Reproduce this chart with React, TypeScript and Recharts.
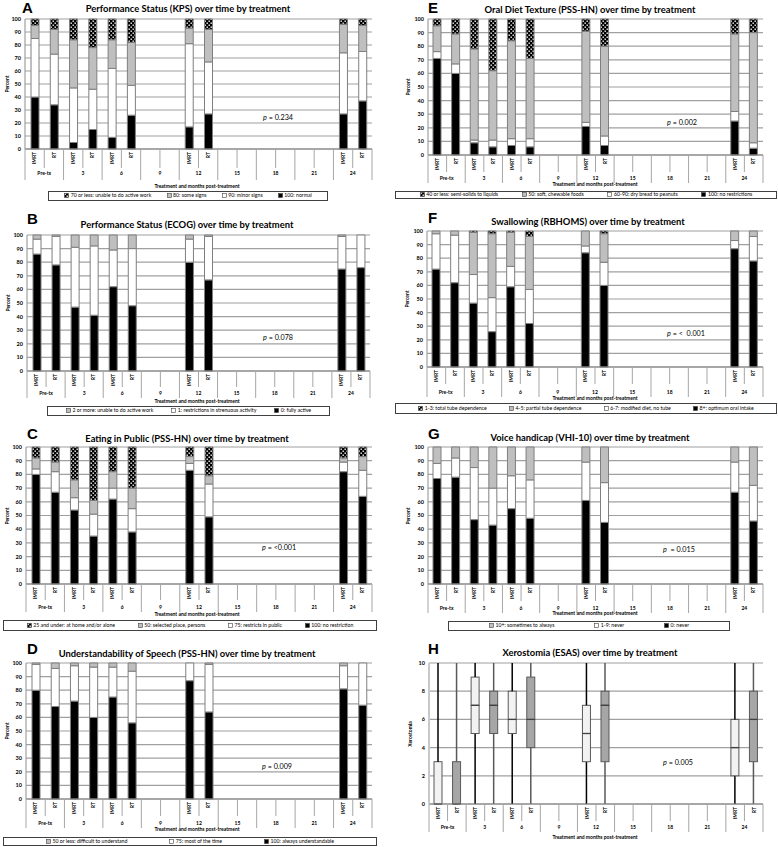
import React from 'react';
import { BarChart, Bar, XAxis, YAxis, CartesianGrid } from 'recharts';

// x axis: two arms inside each time point (months post-treatment)
const GROUPS = ['Pre-tx', '3', '6', '9', '12', '15', '18', '21', '24'];
const ARMS = ['IMRT', 'RT'];
const MEASURED = ['Pre-tx', '3', '6', '12', '24'];
const PCT_TICKS = [0, 10, 20, 30, 40, 50, 60, 70, 80, 90, 100];
const XERO_TICKS = [0, 2, 4, 6, 8, 10];

// every array: Pre-tx IMRT, Pre-tx RT, 3 IMRT, 3 RT, 6 IMRT, 6 RT, 12 IMRT, 12 RT, 24 IMRT, 24 RT
// A - KPS
const kpsNormal = [40, 34, 5, 15, 9, 26, 17, 27, 27, 37];
const kpsMinor = [45, 39, 42, 31, 53, 23, 64, 40, 47, 38];
const kpsSome = [10, 19, 37, 32, 22, 33, 12, 25, 22, 20];
const kpsUnable = [5, 8, 16, 22, 16, 18, 7, 8, 4, 5];
// B - ECOG
const ecogActive = [86, 78, 47, 41, 62, 48, 80, 67, 75, 76];
const ecogRestricted = [11, 21, 44, 51, 27, 42, 17, 32, 24, 24];
const ecogUnable = [3, 1, 9, 8, 11, 10, 3, 1, 1, 0];
// C - eating in public
const eatNoRestriction = [80, 67, 54, 35, 62, 38, 83, 49, 82, 64];
const eatRestrictsPublic = [4, 15, 9, 16, 8, 17, 5, 24, 7, 19];
const eatSelected = [8, 7, 13, 10, 12, 15, 5, 6, 3, 10];
const eatAtHome = [8, 11, 24, 39, 18, 30, 7, 21, 8, 7];
// D - speech
const speechAlways = [80, 68, 72, 60, 75, 56, 87, 64, 81, 69];
const speechMost = [19, 28, 26, 37, 22, 38, 13, 35, 17, 31];
const speechDifficult = [1, 4, 2, 3, 3, 6, 0, 1, 2, 0];
// E - oral diet
const dietNone = [71, 60, 9, 6, 7, 6, 21, 7, 25, 5];
const dietBread = [5, 7, 2, 5, 5, 6, 3, 7, 7, 4];
const dietSoft = [19, 22, 67, 51, 72, 59, 67, 66, 57, 81];
const dietLiquids = [5, 11, 22, 38, 16, 29, 9, 20, 11, 10];
// F - swallowing
const swallowOptimum = [72, 62, 47, 26, 59, 32, 84, 60, 87, 78];
const swallowModified = [26, 35, 21, 25, 15, 25, 5, 17, 6, 18];
const swallowPartial = [2, 3, 31, 47, 25, 39, 11, 21, 7, 4];
const swallowTotal = [0, 0, 1, 2, 1, 4, 0, 2, 0, 0];
// G - voice
const voiceZero = [77, 78, 47, 43, 55, 48, 61, 45, 67, 46];
const voiceLow = [11, 14, 38, 27, 24, 28, 28, 29, 22, 26];
const voiceHigh = [12, 8, 15, 30, 21, 24, 11, 26, 11, 28];
// H - xerostomia box plot
const xeroMin = [0, 0, 0, 0, 0, 0, 0, 0, 0, 0];
const xeroQ1 = [0, 0, 5, 5, 5, 4, 3, 3, 2, 3];
const xeroMedian = [0, 0, 7, 7, 6, 6, 5, 7, 4, 6];
const xeroQ3 = [3, 3, 9, 8, 8, 9, 7, 8, 6, 8];
const xeroMax = [10, 10, 10, 10, 10, 10, 10, 10, 10, 10];

const FONT = "Lato, 'Liberation Sans', Arial, sans-serif";
const BLACK = '#000000';
const WHITE = '#ffffff';
const GRAY = '#bfbfbf';
const DOTS = 'url(#dots)';
const LINE = '#a6a6a6';

const SLOTS = GROUPS.flatMap((g) =>
  ARMS.map((a) => {
    const m = MEASURED.indexOf(g);
    return { group: g, arm: a, idx: m < 0 ? -1 : m * 2 + ARMS.indexOf(a) };
  })
);

type Series = { key: string; label: string; values: number[]; fill: string };

function buildRows(series: Series[]) {
  return SLOTS.map((s) => {
    const row: Record<string, any> = { slot: s.group + '|' + s.arm, arm: s.arm };
    series.forEach((se) => {
      row[se.key] = s.idx < 0 ? null : se.values[s.idx];
    });
    return row;
  });
}

const diff = (a: number[], b: number[]) => a.map((v, i) => v - b[i]);

const PANELS: any[] = [
  {
    letter: 'A', title: 'Performance Status (KPS) over time by treatment', p: '= 0.234',
    series: [
      { key: 'normal', label: '100: normal', values: kpsNormal, fill: BLACK },
      { key: 'minor', label: '90: minor signs', values: kpsMinor, fill: WHITE },
      { key: 'some', label: '80: some signs', values: kpsSome, fill: GRAY },
      { key: 'unable', label: '70 or less: unable to do active work', values: kpsUnable, fill: DOTS },
    ],
    frame: { x: 0, y: 0, w: 388, h: 210 }, plot: { l: 25, t: 19, r: 372, b: 149 },
    letterPos: { x: 22, y: 2 }, titleX: 188, titleY: 9, yLabelX: 7, pPos: { x: 263, y: 118 },
    groupOff: 24, subLine: 19, groupLine: 31, xTitleX: 197, xTitleY: 186,
    legend: { l: 48, t: 191, r: 328, b: 201 },
  },
  {
    letter: 'B', title: 'Performance Status (ECOG) over time by treatment', p: '= 0.078',
    series: [
      { key: 'active', label: '0: fully active', values: ecogActive, fill: BLACK },
      { key: 'restricted', label: '1: restrictions in strenuous activity', values: ecogRestricted, fill: WHITE },
      { key: 'unable', label: '2 or more: unable to do active work', values: ecogUnable, fill: GRAY },
    ],
    frame: { x: 0, y: 210, w: 388, h: 210 }, plot: { l: 27, t: 235, r: 370, b: 371 },
    letterPos: { x: 27, y: 213 }, titleX: 187, titleY: 225, yLabelX: 8, pPos: { x: 263, y: 338 },
    groupOff: 22, subLine: 16, groupLine: 27, xTitleX: 197, xTitleY: 401,
    legend: { l: 47, t: 406, r: 330, b: 416 },
  },
  {
    letter: 'C', title: 'Eating in Public (PSS-HN) over time by treatment', p: '= <0.001',
    series: [
      { key: 'none', label: '100: no restriction', values: eatNoRestriction, fill: BLACK },
      { key: 'pub', label: '75: restricts in public', values: eatRestrictsPublic, fill: WHITE },
      { key: 'sel', label: '50: selected place, persons', values: eatSelected, fill: GRAY },
      { key: 'home', label: '25 and under: at home and/or alone', values: eatAtHome, fill: DOTS },
    ],
    frame: { x: 0, y: 420, w: 388, h: 210 }, plot: { l: 26, t: 447, r: 372, b: 584 },
    letterPos: { x: 27, y: 428 }, titleX: 187, titleY: 439, yLabelX: 7, pPos: { x: 262, y: 548 },
    groupOff: 23, subLine: 16, groupLine: 28, xTitleX: 197, xTitleY: 614,
    legend: { l: 3, t: 620, r: 377, b: 631 },
  },
  {
    letter: 'D', title: 'Understandability of Speech (PSS-HN) over time by treatment', p: '= 0.009',
    series: [
      { key: 'always', label: '100: always understandable', values: speechAlways, fill: BLACK },
      { key: 'most', label: '75: most of the time', values: speechMost, fill: WHITE },
      { key: 'diff', label: '50 or less: difficult to understand', values: speechDifficult, fill: GRAY },
    ],
    frame: { x: 0, y: 630, w: 388, h: 217 }, plot: { l: 26, t: 663, r: 372, b: 799 },
    letterPos: { x: 27, y: 643 }, titleX: 187, titleY: 654, yLabelX: 7, pPos: { x: 262, y: 767 },
    groupOff: 24, subLine: 17, groupLine: 29, xTitleX: 197, xTitleY: 829,
    legend: { l: 3, t: 837, r: 377, b: 846 },
  },
  {
    letter: 'E', title: 'Oral Diet Texture (PSS-HN) over time by treatment', p: '= 0.002',
    series: [
      { key: 'none', label: '100: no restrictions', values: dietNone, fill: BLACK },
      { key: 'bread', label: '60-90: dry bread to peanuts', values: dietBread, fill: WHITE },
      { key: 'soft', label: '50: soft, chewable foods', values: dietSoft, fill: GRAY },
      { key: 'liq', label: '40 or less: semi-solids to liquids', values: dietLiquids, fill: DOTS },
    ],
    frame: { x: 390, y: 0, w: 388, h: 210 }, plot: { l: 428, t: 19, r: 763, b: 155 },
    letterPos: { x: 428, y: 2 }, titleX: 590, titleY: 10, yLabelX: 408, pPos: { x: 667, y: 123 },
    groupOff: 23, subLine: 17, groupLine: 28, xTitleX: 595, xTitleY: 184,
    legend: { l: 395, t: 191, r: 777, b: 199 },
  },
  {
    letter: 'F', title: 'Swallowing (RBHOMS) over time by treatment', p: '= <  0.001',
    series: [
      { key: 'opt', label: '8+: optimum oral intake', values: swallowOptimum, fill: BLACK },
      { key: 'mod', label: '6-7: modified diet, no tube', values: swallowModified, fill: WHITE },
      { key: 'part', label: '4-5: partial tube dependence', values: swallowPartial, fill: GRAY },
      { key: 'total', label: '1-3: total tube dependence', values: swallowTotal, fill: DOTS },
    ],
    frame: { x: 390, y: 210, w: 388, h: 210 }, plot: { l: 427, t: 231, r: 763, b: 367 },
    letterPos: { x: 428, y: 212 }, titleX: 588, titleY: 222, yLabelX: 407, pPos: { x: 667, y: 334 },
    groupOff: 25, subLine: 17, groupLine: 30, xTitleX: 595, xTitleY: 398,
    legend: { l: 395, t: 403, r: 777, b: 414 },
  },
  {
    letter: 'G', title: 'Voice handicap (VHI-10) over time by treatment', p: ' = 0.015',
    series: [
      { key: 'zero', label: '0: never', values: voiceZero, fill: BLACK },
      { key: 'low', label: '1-9: never', values: voiceLow, fill: WHITE },
      { key: 'high', label: '10+: sometimes to always', values: voiceHigh, fill: GRAY },
    ],
    frame: { x: 390, y: 420, w: 388, h: 210 }, plot: { l: 428, t: 447, r: 763, b: 584 },
    letterPos: { x: 428, y: 428 }, titleX: 590, titleY: 438, yLabelX: 408, pPos: { x: 663, y: 550 },
    groupOff: 24, subLine: 17, groupLine: 29, xTitleX: 595, xTitleY: 613,
    legend: { l: 448, t: 621, r: 730, b: 631 },
  },
  {
    letter: 'H', title: 'Xerostomia (ESAS) over time by treatment', p: '= 0.005', kind: 'box',
    yLabel: 'Xerostomia',
    series: [
      { key: 'base', label: '', values: xeroMin, fill: 'none' },
      { key: 'lowW', label: '', values: diff(xeroQ1, xeroMin), fill: 'none' },
      { key: 'lowB', label: '', values: diff(xeroMedian, xeroQ1), fill: 'box' },
      { key: 'highB', label: '', values: diff(xeroQ3, xeroMedian), fill: 'box' },
      { key: 'highW', label: '', values: diff(xeroMax, xeroQ3), fill: 'none' },
    ],
    frame: { x: 390, y: 630, w: 388, h: 217 }, plot: { l: 429, t: 663, r: 763, b: 804 },
    letterPos: { x: 428, y: 643 }, titleX: 590, titleY: 653, yLabelX: 410, pPos: { x: 663, y: 763 },
    groupOff: 23, subLine: 17, groupLine: 28, xTitleX: 595, xTitleY: 837,
    legend: null,
  },
];

function CategoryTick(props: any) {
  const { x, y, payload, cfg } = props;
  const i: number = payload.index;
  const half: number = payload.offset || (cfg.plot.r - cfg.plot.l) / (SLOTS.length * 2);
  const slot = SLOTS[i];
  const start = i % 2 === 0;
  const left = x - half;
  return (
    <g>
      <line x1={left} x2={left} y1={y} y2={y + (start ? cfg.groupLine : cfg.subLine)} stroke={LINE} strokeWidth={1} />
      {i === SLOTS.length - 1 && (
        <line x1={x + half} x2={x + half} y1={y} y2={y + cfg.groupLine} stroke={LINE} strokeWidth={1} />
      )}
      {slot.idx >= 0 && (
        <text transform={`translate(${x + 1.8},${y + 3}) rotate(-90)`} textAnchor="end" fontSize={5} fontWeight={700} fill="#000">
          {slot.arm}
        </text>
      )}
      {!start && (
        <text x={left} y={y + cfg.groupOff} textAnchor="middle" dominantBaseline="central" fontSize={5} fontWeight={700} fill="#000">
          {slot.group}
        </text>
      )}
    </g>
  );
}

function Whisker(props: any) {
  const { x, y, width, height, payload } = props;
  if (!height || isNaN(y)) return null;
  const cx = x + width / 2;
  return <line x1={cx} x2={cx} y1={y} y2={y + height} stroke={payload.arm === 'IMRT' ? '#000' : '#595959'} strokeWidth={1.5} />;
}

function BoxPart(props: any) {
  const { x, y, width, height, payload, median } = props;
  if (!height || isNaN(y)) return null;
  const imrt = payload.arm === 'IMRT';
  return (
    <g>
      <rect x={x} y={y} width={width} height={height} fill={imrt ? '#f2f2f2' : '#a6a6a6'} stroke="#595959" strokeWidth={1} />
      {median && <line x1={x} x2={x + width} y1={y + height} y2={y + height} stroke="#404040" strokeWidth={1.3} />}
    </g>
  );
}

function Marker({ fill }: { fill: string }) {
  return (
    <svg width={5} height={5} style={{ marginRight: 1.5, flex: 'none' }}>
      <rect x={0.5} y={0.5} width={4} height={4} fill={fill} stroke="#404040" strokeWidth={0.6} />
    </svg>
  );
}

const abs = (x: number, y: number, extra: React.CSSProperties = {}): React.CSSProperties => ({
  position: 'absolute', left: x, top: y, whiteSpace: 'nowrap', lineHeight: 1, ...extra,
});

function Panel({ cfg }: { cfg: any }) {
  const { frame, plot } = cfg;
  const rows = buildRows(cfg.series);
  const isBox = cfg.kind === 'box';
  const series: Series[] = cfg.series;
  return (
    <>
      <div style={abs(frame.x, frame.y)}>
        <BarChart
          width={frame.w}
          height={frame.h}
          data={rows}
          margin={{ top: plot.t - frame.y, right: frame.x + frame.w - plot.r, left: 0, bottom: 0 }}
          barSize={8}
        >
          <CartesianGrid vertical={false} stroke="#a0a0a0" strokeWidth={1.2} />
          <XAxis
            dataKey="slot"
            interval={0}
            height={frame.y + frame.h - plot.b}
            tickLine={false}
            tickSize={0}
            tickMargin={0}
            axisLine={{ stroke: '#808080', strokeWidth: 1.2 }}
            tick={(t: any) => <CategoryTick {...t} cfg={cfg} />}
          />
          <YAxis
            width={plot.l - frame.x}
            domain={isBox ? [0, 10] : [0, 100]}
            ticks={isBox ? XERO_TICKS : PCT_TICKS}
            interval={0}
            tickLine={false}
            tickSize={0}
            tickMargin={4}
            axisLine={{ stroke: isBox ? '#c8c8c8' : '#a0a0a0', strokeWidth: isBox ? 2 : 1.2 }}
            tick={{ fontSize: 5.5, fontWeight: 700, fill: '#000' }}
          />
          {series.map((s) => {
            if (!isBox) {
              return (
                <Bar key={s.key} dataKey={s.key} stackId="s" fill={s.fill} stroke="#7f7f7f" strokeWidth={1} isAnimationActive={false} />
              );
            }
            if (s.fill === 'box') {
              return (
                <Bar key={s.key} dataKey={s.key} stackId="s" isAnimationActive={false}
                  shape={(p: any) => <BoxPart {...p} median={s.key === 'highB'} />} />
              );
            }
            return (
              <Bar key={s.key} dataKey={s.key} stackId="s" isAnimationActive={false}
                shape={(p: any) => (s.key === 'base' ? null : <Whisker {...p} />)} />
            );
          })}
        </BarChart>
      </div>
      <div style={abs(cfg.letterPos.x, cfg.letterPos.y - 2, { fontSize: 15, fontWeight: 700, fontFamily: "'Liberation Sans', Arial, sans-serif" })}>
        {cfg.letter}
      </div>
      <div style={abs(cfg.titleX, cfg.titleY, { transform: 'translate(-50%,-50%)', fontSize: 9.4, fontWeight: 700 })}>
        {cfg.title}
      </div>
      <div style={abs(cfg.yLabelX, (plot.t + plot.b) / 2, { transform: 'translate(-50%,-50%) rotate(-90deg)', fontSize: 5, fontWeight: 700 })}>
        {cfg.yLabel || 'Percent'}
      </div>
      <div style={abs(cfg.pPos.x, cfg.pPos.y, { transform: 'translateY(-50%)', fontSize: 7.2, whiteSpace: 'pre' })}>
        <span style={{ fontStyle: 'italic' }}>p</span> {cfg.p}
      </div>
      <div style={abs(cfg.xTitleX, cfg.xTitleY, { transform: 'translate(-50%,-50%)', fontSize: 5, fontWeight: 700 })}>
        Treatment and months post-treatment
      </div>
      {cfg.legend && (
        <div
          style={abs(cfg.legend.l, cfg.legend.t, {
            width: cfg.legend.r - cfg.legend.l,
            height: cfg.legend.b - cfg.legend.t,
            boxSizing: 'border-box',
            border: '1px solid #404040',
            display: 'flex',
            alignItems: 'center',
            justifyContent: 'space-evenly',
            fontSize: 5.2,
          })}
        >
          {[...series].reverse().map((s) => (
            <div key={s.key} style={{ display: 'flex', alignItems: 'center' }}>
              <Marker fill={s.fill} />
              <span>{s.label}</span>
            </div>
          ))}
        </div>
      )}
    </>
  );
}

export default function App() {
  return (
    <div style={{ position: 'absolute', left: 0, top: 0, width: 778, height: 847, background: '#fff', fontFamily: FONT, overflow: 'hidden', color: '#000' }}>
      <svg width={0} height={0} style={{ position: 'absolute' }}>
        <defs>
          <pattern id="dots" width={4} height={4} patternUnits="userSpaceOnUse">
            <rect width={4} height={4} fill="#000" />
            <rect x={0.5} y={0.5} width={1.4} height={1.4} fill="#fff" />
            <rect x={2.5} y={2.5} width={1.4} height={1.4} fill="#fff" />
          </pattern>
        </defs>
      </svg>
      {PANELS.map((p) => (
        <Panel key={p.letter} cfg={p} />
      ))}
    </div>
  );
}
